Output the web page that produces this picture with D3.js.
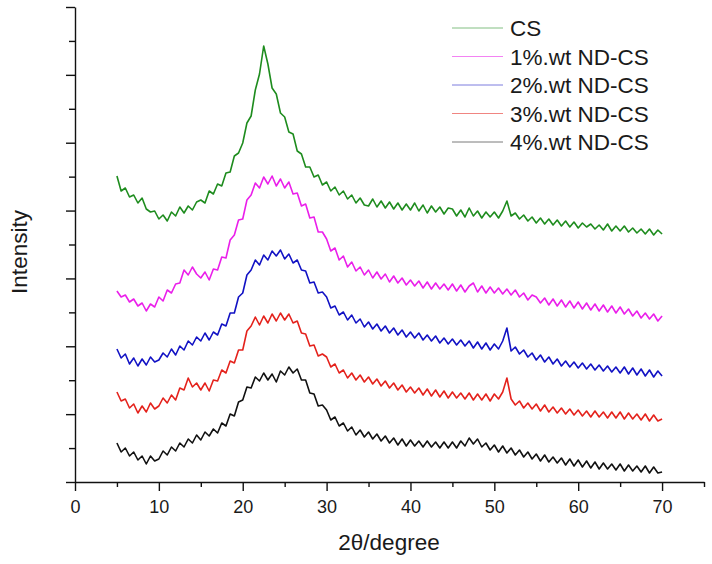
<!DOCTYPE html>
<html><head><meta charset="utf-8">
<script src="https://cdn.jsdelivr.net/npm/d3@7"></script>
<style>
body{margin:0;background:#fff}
svg{display:block}
text{font-family:"Liberation Sans",Arial,sans-serif;fill:#1a1a1a}
</style>
</head><body>
<svg id="c" width="712" height="564"></svg>
<script>
const twoTheta = [
5,5.5,6,6.5,7,7.5,8,8.5,9,9.5,
10,10.5,11,11.5,12,12.5,13,13.5,14,14.5,
15,15.5,16,16.5,17,17.5,18,18.5,19,19.5,
20,20.5,21,21.5,22,22.5,23,23.5,24,24.5,
25,25.5,26,26.5,27,27.5,28,28.5,29,29.5,
30,30.5,31,31.5,32,32.5,33,33.5,34,34.5,
35,35.5,36,36.5,37,37.5,38,38.5,39,39.5,
40,40.5,41,41.5,42,42.5,43,43.5,44,44.5,
45,45.5,46,46.5,47,47.5,48,48.5,49,49.5,
50,50.5,51,51.5,52,52.5,53,53.5,54,54.5,
55,55.5,56,56.5,57,57.5,58,58.5,59,59.5,
60,60.5,61,61.5,62,62.5,63,63.5,64,64.5,
65,65.5,66,66.5,67,67.5,68,68.5,69,69.5,
70];

const csValues = [
306,291,294,285,287,279,284,273,270,271,
263,267,261,270,266,275,269,276,272,280,
282,279,291,288,298,296,309,310,326,329,
339,359,366,392,408,436,418,394,388,369,
365,350,348,331,328,315,315,305,307,297,
300,291,295,287,291,283,287,279,284,277,
276,283,275,281,274,280,273,279,272,278,
272,279,271,277,269,276,270,275,268,274,
273,266,272,265,274,266,271,264,270,265,
270,264,271,281,266,269,263,267,261,265,
259,264,258,263,257,262,256,261,255,260,
254,259,255,258,253,257,252,258,251,256,
251,256,250,254,249,253,248,253,247,252,
248];

const nd1Values = [
191,185,187,180,183,176,179,171,178,175,
185,181,192,189,198,199,212,207,215,208,
204,210,202,213,212,225,224,242,247,262,
263,282,287,299,294,305,298,306,296,303,
294,300,288,289,276,278,264,265,250,250,
243,231,234,222,226,215,220,211,215,207,
212,204,210,203,208,200,206,199,204,197,
202,196,201,194,200,193,199,193,198,192,
198,191,197,190,196,199,190,196,189,195,
189,194,188,193,187,192,185,189,182,187,
185,179,184,177,183,176,182,175,181,174,
180,173,179,172,178,171,177,170,176,169,
175,168,173,166,171,164,169,163,168,161,
166];

const nd2Values = [
133,124,128,118,124,116,123,117,125,120,
122,129,125,133,127,136,132,141,137,145,
141,149,142,150,147,158,156,169,169,185,
189,207,212,222,217,227,222,231,226,232,
223,228,219,222,212,211,199,200,189,190,
185,174,176,167,170,162,167,159,163,155,
160,153,158,151,156,149,154,147,152,145,
150,144,149,142,147,141,146,139,144,138,
143,137,142,136,141,134,140,133,139,132,
138,133,141,154,131,135,128,132,125,129,
122,127,120,125,118,123,116,121,115,120,
114,119,113,118,112,117,111,116,110,115,
109,115,108,114,107,113,106,112,105,111,
106];

const nd3Values = [
90,81,83,74,78,69,76,70,79,73,
76,84,79,87,82,94,92,104,95,99,
92,99,91,102,101,112,109,121,119,132,
132,151,156,165,157,166,159,168,161,169,
162,168,159,161,149,148,136,137,126,128,
125,115,118,109,112,104,109,102,107,100,
105,98,103,96,101,94,99,92,97,90,
95,89,94,87,93,86,92,85,91,84,
90,84,89,83,89,82,88,82,88,81,
88,83,90,104,83,77,81,74,79,73,
78,71,77,70,75,69,74,68,73,67,
72,66,71,65,71,65,70,64,70,64,
70,63,69,63,68,62,68,61,67,61,
63];

const nd4Values = [
39,30,34,26,30,22,26,18,26,21,
23,31,27,35,31,39,35,43,39,47,
42,50,46,53,49,59,56,68,66,80,
82,95,94,105,101,109,102,108,100,111,
107,115,109,113,102,102,89,88,76,77,
72,62,65,56,59,51,55,47,52,45,
50,43,48,41,46,39,44,37,43,36,
42,36,41,35,41,35,40,34,40,34,
40,34,41,36,44,38,43,35,39,32,
37,30,36,29,34,27,32,25,30,23,
28,21,27,20,25,19,24,17,23,16,
22,15,21,14,20,13,19,13,18,12,
18,11,17,11,16,10,16,9,15,9,
10];

const seriesNames = ["CS", "1%.wt ND-CS", "2%.wt ND-CS", "3%.wt ND-CS", "4%.wt ND-CS"];
const seriesColors = ["#1e8c1e", "#ea1fea", "#1212c4", "#e4221c", "#111111"];
const seriesValues = [csValues, nd1Values, nd2Values, nd3Values, nd4Values];
const xTickLabels = [0, 10, 20, 30, 40, 50, 60, 70];

const svg = d3.select("#c");
const x = d3.scaleLinear().domain([0, 75]).range([75, 704]);
const y = d3.scaleLinear().domain([0, 475]).range([482, 7]);

// curves
const line = d3.line().x((d, i) => x(twoTheta[i])).y(d => y(d));
seriesValues.forEach((vals, k) => {
  svg.append("path").datum(vals)
    .attr("d", line)
    .attr("fill", "none")
    .attr("stroke", seriesColors[k])
    .attr("stroke-width", 1.6)
    .attr("stroke-linejoin", "round");
});

// x axis
const xTicks = d3.range(0, 76, 5);
const xAxis = d3.axisBottom(x).tickValues(xTicks).tickSizeOuter(0)
  .tickFormat(d => xTickLabels.includes(d) ? String(d) : "");
const gx = svg.append("g").attr("transform", "translate(0,482)").call(xAxis);
gx.select(".domain").attr("stroke", "#111").attr("stroke-width", 1.4);
gx.selectAll(".tick line").attr("stroke", "#111").attr("stroke-width", 1.4)
  .attr("y2", d => d % 10 === 0 ? 9 : 5);
gx.selectAll(".tick text").attr("y", 31).attr("dy", null)
  .style("font-size", "18px").attr("fill", "#1a1a1a")
  .style("font-family", '"Liberation Sans",Arial,sans-serif');

// y axis
const yTicks = d3.range(15).map(i => i * 475 / 14);
const yAxis = d3.axisLeft(y).tickValues(yTicks).tickSizeOuter(0).tickFormat("");
const gy = svg.append("g").attr("transform", "translate(75,0)").call(yAxis);
gy.select(".domain").attr("stroke", "#111").attr("stroke-width", 1.4);
gy.selectAll(".tick line").attr("stroke", "#111").attr("stroke-width", 1.4)
  .attr("x2", (d, i) => i % 2 === 0 ? -9 : -6);

// axis titles
svg.append("text").attr("x", 389).attr("y", 550).attr("text-anchor", "middle")
  .style("font-size", "22.5px").text("2θ/degree");
svg.append("text").attr("transform", "translate(27,252) rotate(-90)")
  .attr("text-anchor", "middle").style("font-size", "22.5px").text("Intensity");

// legend
const legendRows = [28, 56.5, 85, 113.5, 142];
seriesNames.forEach((name, k) => {
  const g = svg.append("g").attr("transform", `translate(0,${legendRows[k]})`);
  g.append("line").attr("x1", 452).attr("x2", 503).attr("y1", 0).attr("y2", 0)
    .attr("stroke", seriesColors[k]).attr("stroke-width", 1).attr("opacity", 0.55);
  g.append("text").attr("x", 510).attr("y", 0).attr("dy", "0.36em")
    .style("font-size", "22.5px").text(name);
});
</script>
</body></html>
